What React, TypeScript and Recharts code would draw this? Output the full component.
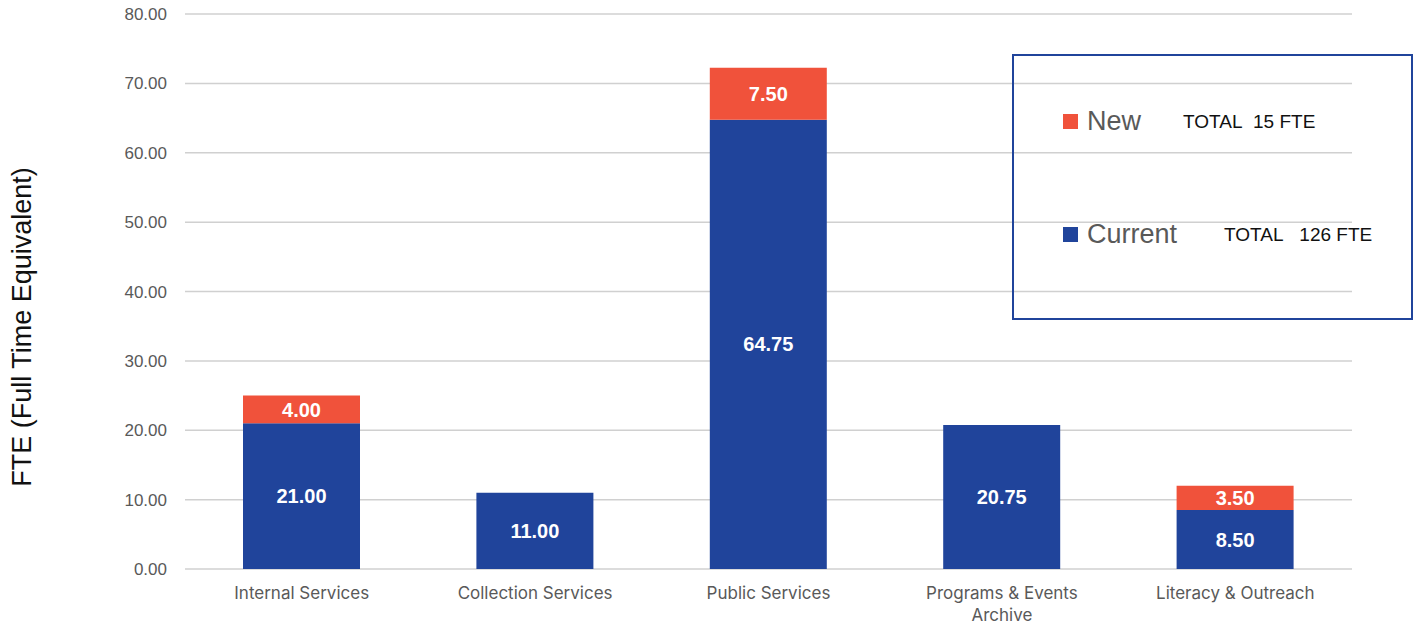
import { BarChart, Bar, XAxis, YAxis, CartesianGrid, Legend, LabelList, Text } from 'recharts';

const categories = ['Internal Services', 'Collection Services', 'Public Services', 'Programs & Events Archive', 'Literacy & Outreach'];
const currentFte = [21, 11, 64.75, 20.75, 8.5];
const newFte = [4, 0, 7.5, 0, 3.5];
const yTicks = [0, 10, 20, 30, 40, 50, 60, 70, 80];

const BLUE = '#20449B';
const RED = '#F0523B';
const FONT = "'Liberation Sans', Arial, sans-serif";

const data = categories.map((name, i) => ({ name, current: currentFte[i], added: newFte[i] }));
const totalNew = newFte.reduce((a, b) => a + b, 0);
const totalCurrent = currentFte.reduce((a, b) => a + b, 0);

const fmt = (v: any) => (Number(v) ? Number(v).toFixed(2) : '');

const XTick = (props: any) => {
    const { x, y, payload } = props;
    return (
        <Text x={x} y={y} width={165} textAnchor="middle" verticalAnchor="start" lineHeight={22}
            fontSize={17} fill="#595959" fontFamily="Inter, 'Open Sans', sans-serif">
            {payload.value}
        </Text>
    );
};

const LegendBox = (props: any) => {
    const items = [...(props.payload || [])].reverse();
    const totals: Record<string, string> = {
        New: `TOTAL\u00a0\u00a0${totalNew} FTE`,
        Current: `TOTAL\u00a0\u00a0\u00a0${totalCurrent} FTE`,
    };
    const rows = [{ top: 50, totalLeft: 169 }, { top: 163, totalLeft: 210 }];
    return (
        <div style={{ position: 'relative', width: 401, height: 266, boxSizing: 'border-box', border: `2px solid ${BLUE}` }}>
            {items.map((it: any, i: number) => (
                <div key={it.value} style={{ position: 'absolute', left: 49, top: rows[i].top, height: 30, display: 'flex', alignItems: 'center', width: 360 }}>
                    <span style={{ width: 15, height: 15, background: it.color, display: 'inline-block' }} />
                    <span style={{ marginLeft: 9, fontSize: 27, color: '#595959', fontFamily: FONT }}>{it.value}</span>
                    <span style={{ position: 'absolute', left: rows[i].totalLeft - 49, top: 5, fontSize: 19, color: '#111', fontFamily: FONT }}>
                        {totals[it.value]}
                    </span>
                </div>
            ))}
        </div>
    );
};

const YLabel = () => {
    const cx = 22;
    const cy = 327;
    return (
        <text x={cx} y={cy} transform={`rotate(-90, ${cx}, ${cy})`} textAnchor="middle" dominantBaseline="central"
            fontSize={27} fill="#111" fontFamily={FONT}>
            FTE (Full Time Equivalent)
        </text>
    );
};

export default function App() {
    return (
        <div style={{ position: 'absolute', left: 0, top: 0, background: '#fff' }}>
            <BarChart width={1415} height={636} data={data} margin={{ top: 14, right: 63, bottom: 7, left: 0 }} barSize={117}>
                <CartesianGrid vertical={false} stroke="#D0D0D0" strokeWidth={1.5} />
                <XAxis dataKey="name" axisLine={false} tickLine={false} tickSize={0} tickMargin={18} height={60}
                    tick={<XTick />} interval={0} />
                <YAxis domain={[0, 80]} ticks={yTicks} width={185} axisLine={false} tickLine={false} tickMargin={12}
                    tickFormatter={(v: number) => v.toFixed(2)}
                    tick={{ fontSize: 17, fill: '#595959', fontFamily: FONT }}
                    label={{ content: <YLabel /> }} />
                <Legend layout="vertical" align="center" verticalAlign="middle" content={<LegendBox />}
                    wrapperStyle={{ position: 'absolute', left: 1012, top: 54, width: 401, height: 266 }} />
                <Bar dataKey="current" name="Current" stackId="a" fill={BLUE} isAnimationActive={false}>
                    <LabelList dataKey="current" position="center" formatter={fmt} fill="#fff" fontSize={20} fontWeight="bold"
                        fontFamily={FONT} />
                </Bar>
                <Bar dataKey="added" name="New" stackId="a" fill={RED} isAnimationActive={false}>
                    <LabelList dataKey="added" position="center" formatter={fmt} fill="#fff" fontSize={20} fontWeight="bold"
                        fontFamily={FONT} />
                </Bar>
            </BarChart>
        </div>
    );
}
